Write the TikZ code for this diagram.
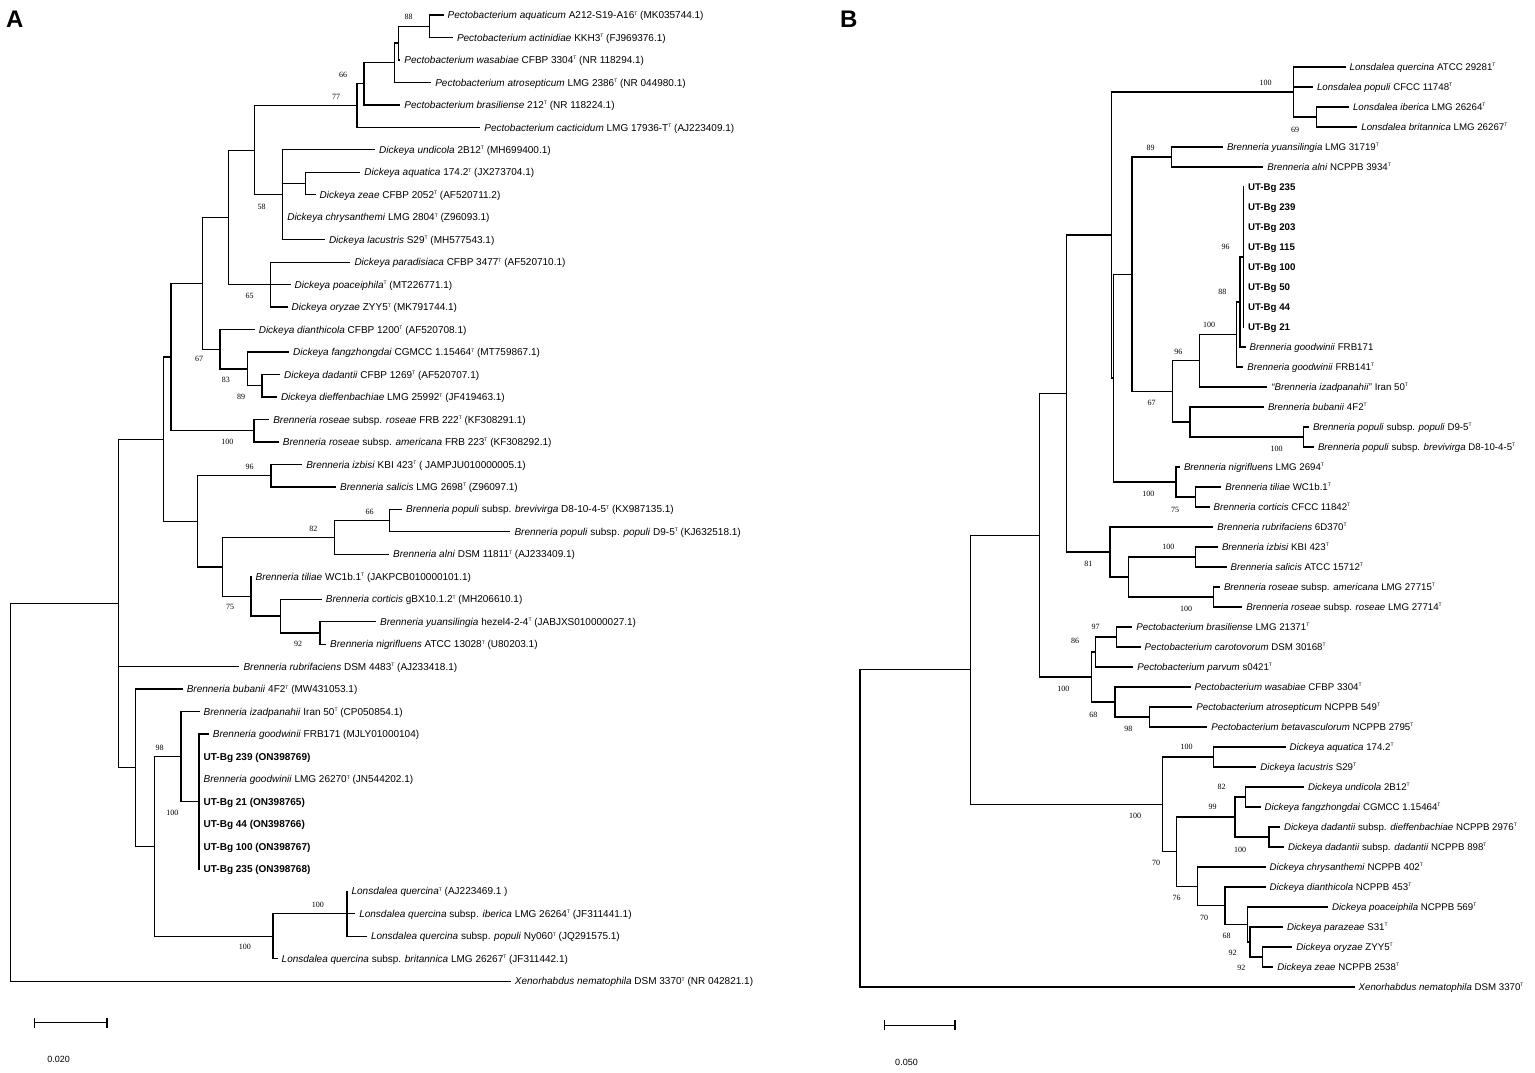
\documentclass[tikz,border=0pt]{standalone}
\usepackage{fontspec}
\setmainfont{Liberation Sans}
\newfontfamily\bsfont{Liberation Serif}
\newcommand{\tsp}{\raisebox{3.6pt}{\fontsize{5}{5}\selectfont T}}
\begin{document}
\begin{tikzpicture}[x=1pt,y=-1pt,
  branch/.style={line width=1.25pt, line cap=rect},
  lfA/.style={anchor=west, inner xsep=4.5pt, inner ysep=0pt, text height=7.2pt, text depth=0pt, font=\fontsize{10}{12}\selectfont},
  lfB/.style={anchor=west, inner xsep=4.5pt, inner ysep=0pt, text height=7.0pt, text depth=0pt, font=\fontsize{9.7}{11}\selectfont},
  bs/.style={inner sep=0pt, font=\bsfont\fontsize{8}{9}\selectfont},
  panel/.style={anchor=base west, inner sep=0pt, font=\fontsize{24}{24}\selectfont\bfseries},
  sclab/.style={inner sep=0pt, font=\fontsize{9}{10}\selectfont}]
\useasboundingbox (0,0) rectangle (1535,1072);
\fill[white] (0,0) rectangle (1535,1072);

% ================= PANEL A =================
\node[panel] (pA) at (6,27) {A};
% leaves
\node[lfA] (a1) at (442.9,15.0) {\textit{Pectobacterium aquaticum} A212-S19-A16\tsp{} (MK035744.1)};
\node[lfA] (a2) at (452.3,37.5) {\textit{Pectobacterium actinidiae} KKH3\tsp{} (FJ969376.1)};
\node[lfA] (a3) at (399.7,59.9) {\textit{Pectobacterium wasabiae} CFBP 3304\tsp{} (NR 118294.1)};
\node[lfA] (a4) at (430.6,82.4) {\textit{Pectobacterium atrosepticum} LMG 2386\tsp{} (NR 044980.1)};
\node[lfA] (a5) at (399.7,104.9) {\textit{Pectobacterium brasiliense} 212\tsp{} (NR 118224.1)};
\node[lfA] (a6) at (479.7,127.4) {\textit{Pectobacterium cacticidum} LMG 17936-T\tsp{} (AJ223409.1)};
\node[lfA] (a7) at (374.5,149.8) {\textit{Dickeya undicola} 2B12\tsp{} (MH699400.1)};
\node[lfA] (a8) at (359.7,172.3) {\textit{Dickeya aquatica} 174.2\tsp{} (JX273704.1)};
\node[lfA] (a9) at (314.9,194.8) {\textit{Dickeya zeae} CFBP 2052\tsp{} (AF520711.2)};
\node[lfA] (a10) at (282.6,217.2) {\textit{Dickeya chrysanthemi} LMG 2804\tsp{} (Z96093.1)};
\node[lfA] (a11) at (324.3,239.7) {\textit{Dickeya lacustris} S29\tsp{} (MH577543.1)};
\node[lfA] (a12) at (349.8,262.2) {\textit{Dickeya paradisiaca} CFBP 3477\tsp{} (AF520710.1)};
\node[lfA] (a13) at (290.0,284.6) {\textit{Dickeya poaceiphila}\tsp{} (MT226771.1)};
\node[lfA] (a14) at (287.0,307.1) {\textit{Dickeya oryzae} ZYY5\tsp{} (MK791744.1)};
\node[lfA] (a15) at (254.1,329.6) {\textit{Dickeya dianthicola} CFBP 1200\tsp{} (AF520708.1)};
\node[lfA] (a16) at (288.5,352.1) {\textit{Dickeya fangzhongdai} CGMCC 1.15464\tsp{} (MT759867.1)};
\node[lfA] (a17) at (279.4,374.5) {\textit{Dickeya dadantii} CFBP 1269\tsp{} (AF520707.1)};
\node[lfA] (a18) at (276.3,397.0) {\textit{Dickeya dieffenbachiae} LMG 25992\tsp{} (JF419463.1)};
\node[lfA] (a19) at (268.6,419.5) {\textit{Brenneria roseae} subsp. \textit{roseae} FRB 222\tsp{} (KF308291.1)};
\node[lfA] (a20) at (278.2,441.9) {\textit{Brenneria roseae} subsp. \textit{americana} FRB 223\tsp{} (KF308292.1)};
\node[lfA] (a21) at (301.6,464.4) {\textit{Brenneria izbisi} KBI 423\tsp{} ( JAMPJU010000005.1)};
\node[lfA] (a22) at (335.5,486.9) {\textit{Brenneria salicis} LMG 2698\tsp{} (Z96097.1)};
\node[lfA] (a23) at (401.4,509.3) {\textit{Brenneria populi} subsp. \textit{brevivirga} D8-10-4-5\tsp{} (KX987135.1)};
\node[lfA] (a24) at (509.8,531.8) {\textit{Brenneria populi} subsp. \textit{populi} D9-5\tsp{} (KJ632518.1)};
\node[lfA] (a25) at (388.4,554.3) {\textit{Brenneria alni} DSM 11811\tsp{} (AJ233409.1)};
\node[lfA] (a26) at (250.9,576.8) {\textit{Brenneria tiliae} WC1b.1\tsp{} (JAKPCB010000101.1)};
\node[lfA] (a27) at (321.2,599.2) {\textit{Brenneria corticis} gBX10.1.2\tsp{} (MH206610.1)};
\node[lfA] (a28) at (375.4,621.7) {\textit{Brenneria yuansilingia} hezel4-2-4\tsp{} (JABJXS010000027.1)};
\node[lfA] (a29) at (325.5,644.2) {\textit{Brenneria nigrifluens} ATCC 13028\tsp{} (U80203.1)};
\node[lfA] (a30) at (238.8,666.6) {\textit{Brenneria rubrifaciens} DSM 4483\tsp{} (AJ233418.1)};
\node[lfA] (a31) at (182.1,689.1) {\textit{Brenneria bubanii} 4F2\tsp{} (MW431053.1)};
\node[lfA] (a32) at (199.0,711.6) {\textit{Brenneria izadpanahii} Iran 50\tsp{} (CP050854.1)};
\node[lfA] (a33) at (208.2,734.0) {\textit{Brenneria goodwinii} FRB171 (MJLY01000104)};
\node[lfA] (a34) at (199.0,756.5) {\textbf{UT-Bg 239 (ON398769)}};
\node[lfA] (a35) at (199.0,779.0) {\textit{Brenneria goodwinii} LMG 26270\tsp{} (JN544202.1)};
\node[lfA] (a36) at (199.0,801.5) {\textbf{UT-Bg 21 (ON398765)}};
\node[lfA] (a37) at (199.0,823.9) {\textbf{UT-Bg 44 (ON398766)}};
\node[lfA] (a38) at (199.0,846.4) {\textbf{UT-Bg 100 (ON398767)}};
\node[lfA] (a39) at (199.0,868.9) {\textbf{UT-Bg 235 (ON398768)}};
\node[lfA] (a40) at (346.9,891.3) {\textit{Lonsdalea quercina}\tsp{} (AJ223469.1 )};
\node[lfA] (a41) at (354.6,913.8) {\textit{Lonsdalea quercina} subsp. \textit{iberica} LMG 26264\tsp{} (JF311441.1)};
\node[lfA] (a42) at (366.3,936.3) {\textit{Lonsdalea quercina} subsp. \textit{populi} Ny060\tsp{} (JQ291575.1)};
\node[lfA] (a43) at (277.0,958.7) {\textit{Lonsdalea quercina} subsp. \textit{britannica} LMG 26267\tsp{} (JF311442.1)};
\node[lfA] (a44) at (510.2,981.2) {\textit{Xenorhabdus nematophila} DSM 3370\tsp{} (NR 042821.1)};
% internal nodes
\coordinate (a88) at (429.6,26.25);
\coordinate (aX1) at (398.3,43.1);
\coordinate (aX2) at (394.5,62.75);
\coordinate (a66) at (364,83.8);
\coordinate (a77) at (357,105.6);
\coordinate (aAZ) at (305.4,183.55);
\coordinate (aD1) at (282.6,194.75);
\coordinate (a58) at (254.2,150.2);
\coordinate (a65) at (270.6,284.6);
\coordinate (aDK) at (228.2,217.4);
\coordinate (a89) at (262.1,385.75);
\coordinate (a89p) at (247.6,368.9);
\coordinate (a83) at (220,349.25);
\coordinate (a67) at (202.2,283.3);
\coordinate (aRos) at (254.1,430.7);
\coordinate (aC1) at (171,357);
\coordinate (a96) at (271,475.65);
\coordinate (a66b) at (389.7,520.55);
\coordinate (a82) at (334.2,537.4);
\coordinate (a92) at (319.9,632.95);
\coordinate (aCor) at (280.8,616.1);
\coordinate (a75) at (250.9,596.45);
\coordinate (aB3) at (222.7,566.9);
\coordinate (aB2) at (197.2,521.3);
\coordinate (aC) at (163.8,439.15);
\coordinate (aGood) at (199,801.45);
\coordinate (a100i) at (181.1,756.5);
\coordinate (aLq) at (346.9,913.8);
\coordinate (aL100) at (273,936.25);
\coordinate (a98) at (154.6,846.4);
\coordinate (aBub) at (135.2,767.75);
\coordinate (aM) at (118.6,603.45);
\coordinate (aRoot) at (10.5,792.3);
\foreach \p/\c in {a88/a1.west, a88/a2.west, aX1/a88, aX1/a3.west, aX2/aX1, aX2/a4.west,
  a66/aX2, a66/a5.west, a77/a66, a77/a6.west, aAZ/a8.west, aAZ/a9.west,
  aD1/a7.west, aD1/aAZ, aD1/a10.west, aD1/a11.west, a58/a77, a58/aD1,
  a65/a12.west, a65/a13.west, a65/a14.west, aDK/a58, aDK/a65,
  a89/a17.west, a89/a18.west, a89p/a16.west, a89p/a89, a83/a15.west, a83/a89p,
  a67/aDK, a67/a83, aRos/a19.west, aRos/a20.west, aC1/a67, aC1/aRos,
  a96/a21.west, a96/a22.west, a66b/a23.west, a66b/a24.west, a82/a66b, a82/a25.west,
  a92/a28.west, a92/a29.west, aCor/a27.west, aCor/a92, a75/a26.west, a75/aCor,
  aB3/a82, aB3/a75, aB2/a96, aB2/aB3, aC/aC1, aC/aB2,
  aGood/a33.west, aGood/a34.west, aGood/a35.west, aGood/a36.west, aGood/a37.west, aGood/a38.west, aGood/a39.west,
  a100i/a32.west, a100i/aGood, aLq/a40.west, aLq/a41.west, aLq/a42.west,
  aL100/aLq, aL100/a43.west, a98/a100i, a98/aL100, aBub/a31.west, aBub/a98,
  aM/aC, aM/a30.west, aM/aBub, aRoot/aM, aRoot/a44.west}
  \draw[branch] (\p) |- (\c);
% bootstrap values A
\node[bs] (sa1) at (408.5,17.3) {88};
\node[bs] (sa2) at (343,75) {66};
\node[bs] (sa3) at (336,96.7) {77};
\node[bs] (sa4) at (261.5,206.7) {58};
\node[bs] (sa5) at (249.5,296) {65};
\node[bs] (sa6) at (199,359.3) {67};
\node[bs] (sa7) at (225.8,380) {83};
\node[bs] (sa8) at (241,397.3) {89};
\node[bs] (sa9) at (227.3,442.3) {100};
\node[bs] (sa10) at (249.6,467) {96};
\node[bs] (sa11) at (369.7,511.7) {66};
\node[bs] (sa12) at (313.4,529) {82};
\node[bs] (sa13) at (230,606.7) {75};
\node[bs] (sa14) at (298.2,644) {92};
\node[bs] (sa15) at (159.7,748.3) {98};
\node[bs] (sa16) at (172.4,813.3) {100};
\node[bs] (sa17) at (317.9,905) {100};
\node[bs] (sa18) at (244.9,947.3) {100};
% scale bar A
\coordinate (sbA1) at (34.7,1022.7);
\coordinate (sbA2) at (107.1,1022.7);
\draw[line width=1.25pt] (sbA1) -- (sbA2);
\draw[line width=1.25pt] ([yshift=-5pt]sbA1) -- ([yshift=5pt]sbA1);
\draw[line width=1.25pt] ([yshift=-5pt]sbA2) -- ([yshift=5pt]sbA2);
\node[sclab] (slA) at (58.7,1059) {0.020};

% ================= PANEL B =================
\node[panel] (pB) at (840,27) {B};
\node[lfB] (b1) at (1345,67) {\textit{Lonsdalea quercina} ATCC 29281\tsp};
\node[lfB] (b2) at (1312.3,87) {\textit{Lonsdalea populi} CFCC 11748\tsp};
\node[lfB] (b3) at (1348.3,107) {\textit{Lonsdalea iberica} LMG 26264\tsp};
\node[lfB] (b4) at (1356.7,127) {\textit{Lonsdalea britannica} LMG 26267\tsp};
\node[lfB] (b5) at (1222.3,147) {\textit{Brenneria yuansilingia} LMG 31719\tsp};
\node[lfB] (b6) at (1262.7,167) {\textit{Brenneria alni} NCPPB 3934\tsp};
\node[lfB] (b7) at (1243.3,187) {\textbf{UT-Bg 235}};
\node[lfB] (b8) at (1243.3,207) {\textbf{UT-Bg 239}};
\node[lfB] (b9) at (1243.3,227) {\textbf{UT-Bg 203}};
\node[lfB] (b10) at (1243.3,247) {\textbf{UT-Bg 115}};
\node[lfB] (b11) at (1243.3,267) {\textbf{UT-Bg 100}};
\node[lfB] (b12) at (1243.3,287) {\textbf{UT-Bg 50}};
\node[lfB] (b13) at (1243.3,307) {\textbf{UT-Bg 44}};
\node[lfB] (b14) at (1243.3,327) {\textbf{UT-Bg 21}};
\node[lfB] (b15) at (1245,347) {\textit{Brenneria goodwinii} FRB171};
\node[lfB] (b16) at (1242.7,367) {\textit{Brenneria goodwinii} FRB141\tsp};
\node[lfB] (b17) at (1266.7,387) {\textit{“Brenneria izadpanahii”} Iran 50\tsp};
\node[lfB] (b18) at (1263.3,407) {\textit{Brenneria bubanii} 4F2\tsp};
\node[lfB] (b19) at (1308.3,427) {\textit{Brenneria populi} subsp. \textit{populi} D9-5\tsp};
\node[lfB] (b20) at (1313.3,447) {\textit{Brenneria populi} subsp. \textit{brevivirga} D8-10-4-5\tsp};
\node[lfB] (b21) at (1179.3,467) {\textit{Brenneria nigrifluens} LMG 2694\tsp};
\node[lfB] (b22) at (1220.7,487) {\textit{Brenneria tiliae} WC1b.1\tsp};
\node[lfB] (b23) at (1209,507) {\textit{Brenneria corticis} CFCC 11842\tsp};
\node[lfB] (b24) at (1212.7,527) {\textit{Brenneria rubrifaciens} 6D370\tsp};
\node[lfB] (b25) at (1217.3,547) {\textit{Brenneria izbisi} KBI 423\tsp};
\node[lfB] (b26) at (1226,567) {\textit{Brenneria salicis} ATCC 15712\tsp};
\node[lfB] (b27) at (1219.3,587) {\textit{Brenneria roseae} subsp. \textit{americana} LMG 27715\tsp};
\node[lfB] (b28) at (1241.7,607) {\textit{Brenneria roseae} subsp. \textit{roseae} LMG 27714\tsp};
\node[lfB] (b29) at (1131.7,627) {\textit{Pectobacterium brasiliense} LMG 21371\tsp};
\node[lfB] (b30) at (1140,647) {\textit{Pectobacterium carotovorum} DSM 30168\tsp};
\node[lfB] (b31) at (1132.7,667) {\textit{Pectobacterium parvum} s0421\tsp};
\node[lfB] (b32) at (1190,687) {\textit{Pectobacterium wasabiae} CFBP 3304\tsp};
\node[lfB] (b33) at (1191.7,707) {\textit{Pectobacterium atrosepticum} NCPPB 549\tsp};
\node[lfB] (b34) at (1206.7,727) {\textit{Pectobacterium betavasculorum} NCPPB 2795\tsp};
\node[lfB] (b35) at (1285,747) {\textit{Dickeya aquatica} 174.2\tsp};
\node[lfB] (b36) at (1255.7,767) {\textit{Dickeya lacustris} S29\tsp};
\node[lfB] (b37) at (1303.3,787) {\textit{Dickeya undicola} 2B12\tsp};
\node[lfB] (b38) at (1260,807) {\textit{Dickeya fangzhongdai} CGMCC 1.15464\tsp};
\node[lfB] (b39) at (1279.3,827) {\textit{Dickeya dadantii} subsp. \textit{dieffenbachiae} NCPPB 2976\tsp};
\node[lfB] (b40) at (1283.3,847) {\textit{Dickeya dadantii} subsp. \textit{dadantii} NCPPB 898\tsp};
\node[lfB] (b41) at (1265,867) {\textit{Dickeya chrysanthemi} NCPPB 402\tsp};
\node[lfB] (b42) at (1265,887) {\textit{Dickeya dianthicola} NCPPB 453\tsp};
\node[lfB] (b43) at (1327.3,907) {\textit{Dickeya poaceiphila} NCPPB 569\tsp};
\node[lfB] (b44) at (1282.3,927) {\textit{Dickeya parazeae} S31\tsp};
\node[lfB] (b45) at (1291.7,947) {\textit{Dickeya oryzae} ZYY5\tsp};
\node[lfB] (b46) at (1272.7,967) {\textit{Dickeya zeae} NCPPB 2538\tsp};
\node[lfB] (b47) at (1354,987) {\textit{Xenorhabdus nematophila} DSM 3370\tsp};
% internal nodes
\coordinate (bLon69) at (1316.7,117);
\coordinate (bLon) at (1293.3,92);
\coordinate (b89) at (1171.7,157);
\coordinate (b96i) at (1243.3,257);
\coordinate (b88) at (1240,302);
\coordinate (b100g) at (1236.7,334.5);
\coordinate (b96) at (1199.3,360.75);
\coordinate (bPop) at (1303.3,437);
\coordinate (bBub) at (1190,422);
\coordinate (b67) at (1172.7,391.4);
\coordinate (bN1) at (1132,274.2);
\coordinate (b75) at (1195.7,497);
\coordinate (b100n) at (1176,482);
\coordinate (bM) at (1113.3,378.1);
\coordinate (bL) at (1111.7,235.05);
\coordinate (b100is) at (1195.7,557);
\coordinate (b100ro) at (1213.3,597);
\coordinate (bIR) at (1128.3,577);
\coordinate (b81) at (1110,552);
\coordinate (bK) at (1066.7,393.5);
\coordinate (b97) at (1116.7,637);
\coordinate (b86) at (1095.7,652);
\coordinate (b98) at (1149.3,717);
\coordinate (b68p) at (1115,702);
\coordinate (bP100) at (1091.7,677);
\coordinate (bJ) at (1039.3,535.25);
\coordinate (bAL) at (1213.3,757);
\coordinate (b82) at (1245.7,797);
\coordinate (b100d) at (1269,837);
\coordinate (b99) at (1235,817);
\coordinate (b92b) at (1262.7,957);
\coordinate (b92a) at (1250,942);
\coordinate (b68) at (1247.3,924.5);
\coordinate (b70b) at (1225,905.75);
\coordinate (b76) at (1197.3,886.4);
\coordinate (b70) at (1176.7,851.7);
\coordinate (bD) at (1162.7,804.35);
\coordinate (bI) at (970.7,669.8);
\coordinate (bRoot) at (860,828.4);
\foreach \p/\c in {bLon69/b3.west, bLon69/b4.west, bLon/b1.west, bLon/b2.west, bLon/bLon69,
  b89/b5.west, b89/b6.west,
  b96i/b7.west, b96i/b8.west, b96i/b9.west, b96i/b10.west, b96i/b11.west, b96i/b12.west, b96i/b13.west, b96i/b14.west,
  b88/b96i, b88/b15.west, b100g/b88, b100g/b16.west, b96/b100g, b96/b17.west,
  bPop/b19.west, bPop/b20.west, bBub/b18.west, bBub/bPop, b67/b96, b67/bBub,
  bN1/b89, bN1/b67, b75/b22.west, b75/b23.west, b100n/b21.west, b100n/b75,
  bM/bN1, bM/b100n, bL/bLon, bL/bM,
  b100is/b25.west, b100is/b26.west, b100ro/b27.west, b100ro/b28.west, bIR/b100is, bIR/b100ro,
  b81/b24.west, b81/bIR, bK/bL, bK/b81,
  b97/b29.west, b97/b30.west, b86/b97, b86/b31.west, b98/b33.west, b98/b34.west,
  b68p/b32.west, b68p/b98, bP100/b86, bP100/b68p, bJ/bK, bJ/bP100,
  bAL/b35.west, bAL/b36.west, b82/b37.west, b82/b38.west, b100d/b39.west, b100d/b40.west,
  b99/b82, b99/b100d, b92b/b45.west, b92b/b46.west, b92a/b44.west, b92a/b92b,
  b68/b43.west, b68/b92a, b70b/b42.west, b70b/b68, b76/b41.west, b76/b70b,
  b70/b99, b70/b76, bD/bAL, bD/b70, bI/bJ, bI/bD, bRoot/bI, bRoot/b47.west}
  \draw[branch] (\p) |- (\c);
% bootstrap values B
\node[bs] (sb1) at (1265.7,83.3) {100};
\node[bs] (sb2) at (1295,130) {69};
\node[bs] (sb3) at (1150.7,148.3) {89};
\node[bs] (sb4) at (1225.7,247.3) {96};
\node[bs] (sb5) at (1222.3,292.3) {88};
\node[bs] (sb6) at (1209,325) {100};
\node[bs] (sb7) at (1178.3,351.7) {96};
\node[bs] (sb8) at (1151.7,403.3) {67};
\node[bs] (sb9) at (1276.7,449.3) {100};
\node[bs] (sb10) at (1148.3,494.3) {100};
\node[bs] (sb11) at (1175,510) {75};
\node[bs] (sb12) at (1168.3,547.3) {100};
\node[bs] (sb13) at (1088.3,564.3) {81};
\node[bs] (sb14) at (1186,609.3) {100};
\node[bs] (sb15) at (1095.7,627.3) {97};
\node[bs] (sb16) at (1075,641) {86};
\node[bs] (sb17) at (1063.3,689) {100};
\node[bs] (sb18) at (1093.3,715) {68};
\node[bs] (sb19) at (1128.3,729.3) {98};
\node[bs] (sb20) at (1186.7,746.7) {100};
\node[bs] (sb21) at (1221.7,786.7) {82};
\node[bs] (sb22) at (1212.7,807.3) {99};
\node[bs] (sb23) at (1135,815.7) {100};
\node[bs] (sb24) at (1240,850) {100};
\node[bs] (sb25) at (1156,862.7) {70};
\node[bs] (sb26) at (1176.7,897.7) {76};
\node[bs] (sb27) at (1204,917.7) {70};
\node[bs] (sb28) at (1226.7,936) {68};
\node[bs] (sb29) at (1232.7,953.3) {92};
\node[bs] (sb30) at (1241.3,968.3) {92};
% scale bar B
\coordinate (sbB1) at (884.3,1025.3);
\coordinate (sbB2) at (955,1025.3);
\draw[line width=1.25pt] (sbB1) -- (sbB2);
\draw[line width=1.25pt] ([yshift=-5pt]sbB1) -- ([yshift=5pt]sbB1);
\draw[line width=1.25pt] ([yshift=-5pt]sbB2) -- ([yshift=5pt]sbB2);
\node[sclab] (slB) at (906.5,1062) {0.050};
\end{tikzpicture}
\end{document}
